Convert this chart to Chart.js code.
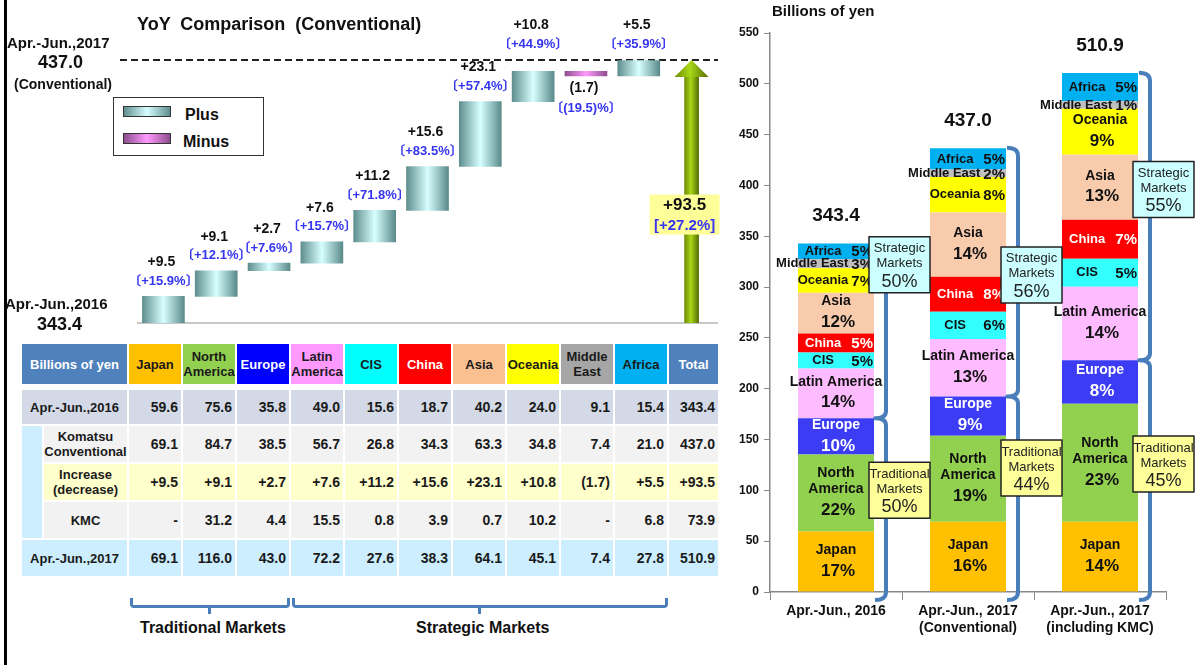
<!DOCTYPE html>
<html>
<head>
<meta charset="utf-8">
<script src="https://cdn.jsdelivr.net/npm/chart.js@4.4.0/dist/chart.umd.min.js"></script>
<style>
  body { margin: 0; width: 1198px; height: 665px; overflow: hidden; background: #fff; position: relative;
         font-family: "Liberation Sans", Arial, sans-serif; color: #111; }
  .abs { position: absolute; }
  .txt { position: absolute; font-weight: bold; white-space: pre; line-height: 1; }
  #salesTable { position: absolute; left: 20px; top: 342px; width: 698px; border-collapse: collapse; table-layout: fixed; }
  #salesTable td, #salesTable th { border: 2px solid #fff; font-weight: bold; font-size: 14px; text-align: right;
         padding: 0 3px 0 0; color: #1a1a1a; line-height: 16px; height: 34px; }
  #salesTable th { text-align: center; font-size: 13px; padding: 0; line-height: 15px; height: 40px; border-bottom: 6px solid #fff; }
  #salesTable td.lbl { text-align: center; font-size: 13px; padding: 0; line-height: 15px; }
  .sw { position: absolute; width: 46px; height: 9px; border: 1.5px solid #333; }
  .brace { position: absolute; border: 3px solid #4A7EBB; border-top: none; border-radius: 0 0 4px 4px; height: 7px; }
  .btick { position: absolute; width: 3px; height: 7px; background: #4A7EBB; }
</style>
</head>
<body>
<div class="abs" style="left:4px;top:0;width:3px;height:665px;background:#000"></div>

<!-- waterfall (left) -->
<canvas id="wfChart" class="abs" width="725" height="340" style="left:0;top:0"></canvas>
<div class="txt" style="left:137px;top:15px;font-size:18px">YoY  Comparison  (Conventional)</div>
<div class="txt" style="left:7px;top:35px;font-size:15px">Apr.-Jun.,2017</div>
<div class="txt" style="left:38px;top:53px;font-size:18px">437.0</div>
<div class="txt" style="left:14px;top:77px;font-size:14px">(Conventional)</div>
<div class="txt" style="left:5px;top:296px;font-size:15px">Apr.-Jun.,2016</div>
<div class="txt" style="left:37px;top:315px;font-size:18px">343.4</div>

<div class="abs" style="left:113px;top:97px;width:149px;height:57px;border:1.5px solid #333;background:#fff">
  <div class="sw" style="left:9px;top:8px;background:linear-gradient(to right,#5F8E8E,#D8FFFF 50%,#5F8E8E)"></div>
  <div class="txt" style="left:71px;top:9px;font-size:16px">Plus</div>
  <div class="sw" style="left:9px;top:35px;background:linear-gradient(to right,#8E4E8E,#FF99FF 50%,#8E4E8E)"></div>
  <div class="txt" style="left:69px;top:36px;font-size:16px">Minus</div>
</div>

<table id="salesTable"></table>

<div class="brace" style="left:130px;top:598px;width:154px"></div>
<div class="btick" style="left:208px;top:607px"></div>
<div class="brace" style="left:292px;top:598px;width:370px"></div>
<div class="btick" style="left:478px;top:607px"></div>
<div class="txt" style="left:140px;top:620px;font-size:16px">Traditional Markets</div>
<div class="txt" style="left:416px;top:620px;font-size:16px">Strategic Markets</div>

<!-- stacked composition (right) -->
<canvas id="mixChart" class="abs" width="473" height="665" style="left:725px;top:0"></canvas>

<script>
// regions and colours
const regions = ['Japan', 'North America', 'Europe', 'Latin America', 'CIS', 'China', 'Asia', 'Oceania', 'Middle East', 'Africa'];
const regionTags = ['Japan', 'North\nAmerica', 'Europe', 'Latin America', 'CIS', 'China', 'Asia', 'Oceania', 'Middle East', 'Africa'];
const regionHeads = ['Japan', 'North<br>America', 'Europe', 'Latin<br>America', 'CIS', 'China', 'Asia', 'Oceania', 'Middle<br>East', 'Africa'];
const barColors = ['#FFC000', '#92D050', '#3C3CF5', '#FFBBFF', '#33FFFF', '#FF0000', '#F8CBAD', '#FFFF00', '#BFBFBF', '#00B0F0'];
const headColors = ['#FFC000', '#92D050', '#0000FF', '#FF99FF', '#00FFFF', '#FF0000', '#FAC090', '#FFFF00', '#A6A6A6', '#00B0F0'];
const whiteText = ['Europe', 'China'];
const compactTag = [false, false, false, false, true, true, false, true, true, true];

// sales, billions of yen
const sales2016 = [59.6, 75.6, 35.8, 49.0, 15.6, 18.7, 40.2, 24.0, 9.1, 15.4];
const salesConv = [69.1, 84.7, 38.5, 56.7, 26.8, 34.3, 63.3, 34.8, 7.4, 21.0];
const salesKmc = [null, 31.2, 4.4, 15.5, 0.8, 3.9, 0.7, 10.2, null, 6.8];
const sales2017 = [69.1, 116.0, 43.0, 72.2, 27.6, 38.3, 64.1, 45.1, 7.4, 27.8];
const change = [9.5, 9.1, 2.7, 7.6, 11.2, 15.6, 23.1, 10.8, -1.7, 5.5];
const changePct = [15.9, 12.1, 7.6, 15.7, 71.8, 83.5, 57.4, 44.9, -19.5, 35.9];
const totalRow = [343.4, 437.0, 93.5, 73.9, 510.9]; // 2016, conventional, change, KMC, 2017
const totalChangePct = 27.2;

// right chart
const barCats = [['Apr.-Jun., 2016'], ['Apr.-Jun., 2017', '(Conventional)'], ['Apr.-Jun., 2017', '(including KMC)']];
const barTotals = [343.4, 437.0, 510.9];
const share2016 = [17, 22, 10, 14, 5, 5, 12, 7, 3, 5];
const shareConv = [16, 19, 9, 13, 6, 8, 14, 8, 2, 5];
const shareKmc = [14, 23, 8, 14, 5, 7, 13, 9, 1, 5];
const strategicShare = [50, 56, 55];
const traditionalShare = [50, 44, 45];

Chart.defaults.font.family = "'Liberation Sans', Arial, 'Noto Sans CJK JP', sans-serif";
Chart.defaults.color = '#111';

const fmt = v => v == null ? '-' : v.toFixed(1);
const fmtChange = v => v < 0 ? '(' + (-v).toFixed(1) + ')' : '+' + v.toFixed(1);
const fmtPct = v => v < 0 ? '〔(' + (-v).toFixed(1) + ')%〕' : '〔+' + v.toFixed(1) + '%〕';

// ---------- table ----------
(function buildTable() {
  const hdText = i => (headColors[i] === '#0000FF' || headColors[i] === '#FF0000') ? '#fff' : '#1a1a1a';
  let h = '<colgroup><col style="width:22px"><col style="width:85px">' +
    regions.map(() => '<col style="width:54px">').join('') + '<col style="width:51px"></colgroup>';
  h += '<tr><th colspan="2" style="background:#4F81BD;color:#fff">Billions of yen</th>' +
    regionHeads.map((r, i) => `<th style="background:${headColors[i]};color:${hdText(i)}">${r}</th>`).join('') +
    '<th style="background:#4F81BD;color:#fff">Total</th></tr>';
  const row = (bg, vals, tot, f) => vals.map(v => `<td style="background:${bg}">${f(v)}</td>`).join('') +
    `<td style="background:${bg}">${f(tot)}</td>`;
  h += `<tr><td class="lbl" colspan="2" style="background:#D3D9E6">Apr.-Jun.,2016</td>${row('#D3D9E6', sales2016, totalRow[0], fmt)}</tr>`;
  h += `<tr><td rowspan="3" style="background:#CCEEFF"></td><td class="lbl" style="background:#F2F2F2;height:36px">Komatsu<br>Conventional</td>${row('#F2F2F2', salesConv, totalRow[1], fmt)}</tr>`;
  h += `<tr><td class="lbl" style="background:#FFFFCC;height:36px">Increase<br>(decrease)</td>${row('#FFFFCC', change, totalRow[2], fmtChange)}</tr>`;
  h += `<tr><td class="lbl" style="background:#F2F2F2;height:36px">KMC</td>${row('#F2F2F2', salesKmc, totalRow[3], fmt)}</tr>`;
  h += `<tr><td class="lbl" colspan="2" style="background:#CCEEFF;height:36px">Apr.-Jun.,2017</td>${row('#CCEEFF', sales2017, totalRow[4], fmt)}</tr>`;
  document.getElementById('salesTable').innerHTML = h;
})();

// ---------- waterfall ----------
let running = totalRow[0];
const stepBars = change.map(c => { const b = [running, running + c]; running += c; return b; }).concat([null]);
const arrowBar = regions.map(() => null).concat([[totalRow[0], totalRow[1]]]);

function stepFill(c) {
  const chart = c.chart;
  if (!chart.chartArea || c.raw == null || c.dataIndex == null) return '#9cc';
  const x = chart.scales.x.getPixelForValue(c.dataIndex);
  const g = chart.ctx.createLinearGradient(x - 21, 0, x + 21, 0);
  const neg = c.raw[1] < c.raw[0];
  g.addColorStop(0, neg ? '#8E4E8E' : '#5F8E8E');
  g.addColorStop(0.5, neg ? '#FF99FF' : '#D8FFFF');
  g.addColorStop(1, neg ? '#8E4E8E' : '#5A8A8A');
  return g;
}
function arrowGrad(ctx, x, half) {
  const g = ctx.createLinearGradient(x - half, 0, x + half, 0);
  g.addColorStop(0, '#6E8B00');
  g.addColorStop(0.45, '#A8D818');
  g.addColorStop(1, '#566E00');
  return g;
}
function arrowFill(c) {
  const chart = c.chart;
  if (!chart.chartArea || c.dataIndex == null) return '#99CC00';
  return arrowGrad(chart.ctx, chart.scales.x.getPixelForValue(c.dataIndex), 7);
}

const HEAD = 17;
const waterfallDecor = {
  id: 'waterfallDecor',
  beforeDatasetsDraw(chart) {
    const { ctx, chartArea: a, scales: { y } } = chart;
    ctx.save();
    ctx.strokeStyle = '#C8C8C8'; ctx.lineWidth = 2;
    ctx.beginPath(); ctx.moveTo(a.left, y.getPixelForValue(totalRow[0])); ctx.lineTo(a.right, y.getPixelForValue(totalRow[0])); ctx.stroke();
    ctx.strokeStyle = '#222'; ctx.setLineDash([7, 4]);
    const dy = y.getPixelForValue(totalRow[1]);
    ctx.beginPath(); ctx.moveTo(120, dy); ctx.lineTo(a.right, dy); ctx.stroke();
    ctx.restore();
  },
  beforeDatasetDraw(chart, args) {
    if (args.index !== 1) return;
    const { ctx, scales: { y } } = chart;
    ctx.save();
    ctx.beginPath();
    ctx.rect(0, y.getPixelForValue(totalRow[1]) + HEAD, chart.width, chart.height);
    ctx.clip();
  },
  afterDatasetDraw(chart, args) {
    if (args.index !== 1) return;
    const { ctx, scales: { x, y } } = chart;
    ctx.restore();
    const ax = x.getPixelForValue(regions.length);
    const tip = y.getPixelForValue(totalRow[1]);
    ctx.save();
    ctx.fillStyle = arrowGrad(ctx, ax, 17);
    ctx.beginPath();
    ctx.moveTo(ax, tip); ctx.lineTo(ax + 17, tip + HEAD); ctx.lineTo(ax - 17, tip + HEAD); ctx.closePath();
    ctx.fill();
    ctx.restore();
  },
  afterDatasetsDraw(chart) {
    const { ctx, scales: { x, y } } = chart;
    const dashY = y.getPixelForValue(totalRow[1]);
    ctx.save();
    ctx.textAlign = 'center'; ctx.textBaseline = 'middle';
    chart.getDatasetMeta(0).data.forEach((bar, i) => {
      if (stepBars[i] == null) return;
      const top = Math.min(bar.y, bar.base), bottom = Math.max(bar.y, bar.base);
      let valY, pctY;
      if (change[i] >= 0) {
        pctY = top - 15;
        if (pctY < dashY + 10) pctY = dashY - 16;   // keep clear of the dashed line
        valY = pctY - 19;
      } else {
        valY = bottom + 12;
        pctY = bottom + 32;
      }
      ctx.fillStyle = '#111'; ctx.font = "bold 14px 'Liberation Sans', Arial";
      ctx.fillText(fmtChange(change[i]), bar.x - 2, valY);
      ctx.fillStyle = '#3535F0'; ctx.font = "bold 13px 'Liberation Sans', Arial, 'Noto Sans CJK JP'";
      ctx.fillText(fmtPct(changePct[i]), bar.x, pctY);
    });
    // total label box
    const ax = x.getPixelForValue(regions.length);
    const by = y.getPixelForValue(382);
    ctx.fillStyle = '#FFFF99';
    ctx.fillRect(ax - 42, by - 20, 70, 40);
    ctx.fillStyle = '#111'; ctx.font = "bold 17px 'Liberation Sans', Arial";
    ctx.fillText(fmtChange(totalRow[2]), ax - 7, by - 9);
    ctx.fillStyle = '#3535F0'; ctx.font = "bold 15px 'Liberation Sans', Arial";
    ctx.fillText('[+' + totalChangePct.toFixed(1) + '%]', ax - 7, by + 11);
    ctx.restore();
  }
};

new Chart(document.getElementById('wfChart'), {
  type: 'bar',
  data: {
    labels: regions.concat(['Total']),
    datasets: [
      { label: 'Change', data: stepBars, barThickness: 42, skipNull: true, backgroundColor: stepFill, borderWidth: 0 },
      { label: 'Total', data: arrowBar, barThickness: 14, skipNull: true, backgroundColor: arrowFill, borderWidth: 0 }
    ]
  },
  options: {
    responsive: false,
    animation: false,
    layout: { padding: { left: 137, right: 7, top: 23.5, bottom: 17 } },
    plugins: { legend: { display: false }, tooltip: { enabled: false } },
    scales: {
      x: { display: false },
      y: { display: false, min: 343.4, max: 450 }
    }
  },
  plugins: [waterfallDecor]
});

// ---------- stacked composition ----------
const shares = [share2016, shareConv, shareKmc];
const series = [sales2016, salesConv, sales2017];
const boxAt = { strategic: [322, 312, 396], traditional: [100, 122, 126] };

const mixDecor = {
  id: 'mixDecor',
  afterDatasetsDraw(chart) {
    const { ctx, scales: { x, y } } = chart;
    ctx.save();
    ctx.textBaseline = 'middle';
    // segment labels
    chart.data.datasets.forEach((ds, di) => {
      chart.getDatasetMeta(di).data.forEach((bar, i) => {
        const top = bar.y, bottom = bar.base, h = bottom - top;
        const left = bar.x - bar.width / 2, right = bar.x + bar.width / 2;
        const mid = (top + bottom) / 2;
        const pct = shares[i][di] + '%';
        ctx.fillStyle = whiteText.includes(regions[di]) ? '#fff' : '#111';
        if (h < 30 || (compactTag[di] && h < 44)) {
          ctx.font = "bold 15px 'Liberation Sans', Arial";
          const pw = ctx.measureText(pct).width;
          ctx.textAlign = 'right';
          ctx.fillText(pct, right - 1, mid + 1);
          ctx.font = "bold 13px 'Liberation Sans', Arial";
          const nw = ctx.measureText(regionTags[di]).width;
          const room = right - 1 - pw - 3 - left;
          if (nw > room) {
            ctx.fillText(regionTags[di], right - 1 - pw - 3, mid);
          } else {
            ctx.textAlign = 'center';
            ctx.fillText(regionTags[di], left + room / 2, mid);
          }
        } else {
          const lines = regionTags[di].split('\n');
          const blockH = lines.length * 16 + 21;
          let ty = mid - blockH / 2 + 7;
          ctx.textAlign = 'center';
          ctx.font = "bold 14px 'Liberation Sans', Arial";
          lines.forEach(l => { ctx.fillText(l, bar.x, ty); ty += 16; });
          ctx.font = "bold 17px 'Liberation Sans', Arial";
          ctx.fillText(pct, bar.x + 2, ty + 5);
        }
      });
    });
    // totals, braces, market boxes
    const y0 = y.getPixelForValue(0);
    barTotals.forEach((t, i) => {
      const bx = x.getPixelForValue(i);
      const right = bx + 38;
      ctx.fillStyle = '#111'; ctx.textAlign = 'center';
      ctx.font = "bold 19px 'Liberation Sans', Arial";
      ctx.fillText(t.toFixed(1), bx, y.getPixelForValue(t) - 27);

      const yt = y.getPixelForValue(t);
      const s = series[i];
      const ym = y.getPixelForValue(s[0] + s[1] + s[2]);   // top of Japan + North America + Europe
      const yb = y0 + 8;
      const sp = right + 12, e = right + 1;
      ctx.strokeStyle = '#4A7EBB'; ctx.lineWidth = 4; ctx.lineJoin = 'round';
      ctx.beginPath();
      ctx.moveTo(e, yt);
      ctx.quadraticCurveTo(sp, yt, sp, yt + 8);
      ctx.lineTo(sp, ym - 7);
      ctx.quadraticCurveTo(sp, ym, e, ym);
      ctx.quadraticCurveTo(sp, ym, sp, ym + 7);
      ctx.lineTo(sp, yb - 8);
      ctx.quadraticCurveTo(sp, yb, e, yb);
      ctx.stroke();

      [['Strategic', strategicShare[i], boxAt.strategic[i], '#CCFFFF'],
       ['Traditional', traditionalShare[i], boxAt.traditional[i], '#FFFF99']].forEach(([name, sh, v, bg]) => {
        const cy = y.getPixelForValue(v);
        const bxl = right - 5, w = 61, bh = 56;
        ctx.fillStyle = bg; ctx.fillRect(bxl, cy - bh / 2, w, bh);
        ctx.strokeStyle = '#222'; ctx.lineWidth = 1.5; ctx.strokeRect(bxl, cy - bh / 2, w, bh);
        ctx.fillStyle = '#222'; ctx.textAlign = 'center';
        ctx.font = "13px 'Liberation Sans', Arial";
        ctx.fillText(name, bxl + w / 2, cy - 16);
        ctx.fillText('Markets', bxl + w / 2, cy - 1);
        ctx.font = "18px 'Liberation Sans', Arial";
        ctx.fillText(sh + '%', bxl + w / 2, cy + 17);
      });
    });
    // axis caption
    ctx.fillStyle = '#111'; ctx.textAlign = 'left';
    ctx.font = "bold 15px 'Liberation Sans', Arial";
    ctx.fillText('Billions of yen', 47, 12);
    ctx.restore();
  }
};

new Chart(document.getElementById('mixChart'), {
  type: 'bar',
  data: {
    labels: barCats,
    datasets: regions.map((r, i) => ({
      label: r,
      data: [sales2016[i], salesConv[i], sales2017[i]],
      backgroundColor: barColors[i],
      borderWidth: 0,
      categoryPercentage: 1,
      barPercentage: 0.576
    }))
  },
  options: {
    responsive: false,
    animation: false,
    layout: { padding: { top: 33, right: 32, left: 0, bottom: 0 } },
    plugins: { legend: { display: false }, tooltip: { enabled: false } },
    scales: {
      x: {
        stacked: true,
        grid: { drawOnChartArea: false, tickLength: 8, color: '#888' },
        border: { color: '#888', width: 1.5 },
        ticks: { color: '#111', font: { weight: 'bold', size: 14 }, padding: 3, maxRotation: 0 },
        afterFit(s) { s.height = 73; }
      },
      y: {
        stacked: true, min: 0, max: 550,
        ticks: { stepSize: 50, color: '#111', font: { weight: 'bold', size: 12 }, padding: 5 },
        grid: { drawOnChartArea: false, tickLength: 6, color: '#888' },
        border: { color: '#888', width: 1.5 },
        afterFit(s) { s.width = 45; }
      }
    }
  },
  plugins: [mixDecor]
});
</script>
</body>
</html>
